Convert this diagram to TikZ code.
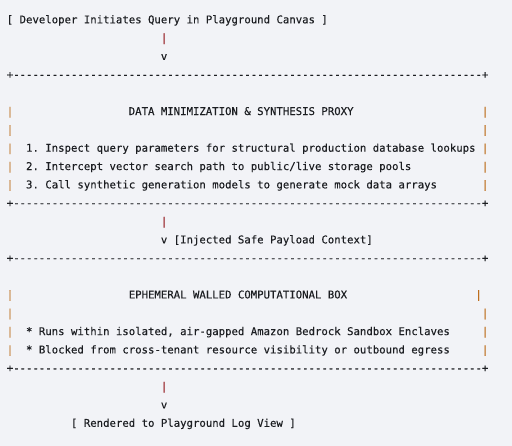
\documentclass[tikz,border=0pt]{standalone}
\usepackage{fontspec}
\setmonofont[FakeBold=0.25]{DejaVu Sans Mono}
\definecolor{bg}{RGB}{242,243,247}
\definecolor{ink}{RGB}{28,30,34}
\definecolor{sidec}{RGB}{190,110,30}
\definecolor{flowc}{RGB}{150,30,36}
\def\dashten{----------}
\def\dashline{+\dashten\dashten\dashten\dashten\dashten\dashten\dashten---+}
\begin{document}
\begin{tikzpicture}[x=0.75pt,y=-0.75pt,
  txt/.style={anchor=base west,inner sep=0pt,outer sep=0pt,font=\ttfamily\fontsize{8pt}{10pt}\selectfont,text=ink},
  side/.style={txt,text=sidec},
  flow/.style={txt,text=flowc}]
\useasboundingbox[fill=bg] (0,0) rectangle (512,446);
\begin{scope}[shift={(5.0925pt,-17.475pt)},x=4.815pt,y=-13.755pt]
% start
\node[txt] (start) at (0,0) {[ Developer Initiates Query in Playground Canvas ]};
\node[flow] (a1) at (24,1) {|};
\node[txt] (a1v) at (24,2) {v};
% proxy box
\node[txt] (p1top) at (0,3) {\dashline};
\node[side] (p1l5) at (0,5) {|};
\node[txt] (p1title) at (19,5) {DATA MINIMIZATION \& SYNTHESIS PROXY};
\node[side] (p1r5) at (74,5) {|};
\node[side] (p1l6) at (0,6) {|};
\node[side] (p1r6) at (74,6) {|};
\node[side] (p1l7) at (0,7) {|};
\node[txt] (p1s1) at (3,7) {1. Inspect query parameters for structural production database lookups};
\node[side] (p1r7) at (74,7) {|};
\node[side] (p1l8) at (0,8) {|};
\node[txt] (p1s2) at (3,8) {2. Intercept vector search path to public/live storage pools};
\node[side] (p1r8) at (74,8) {|};
\node[side] (p1l9) at (0,9) {|};
\node[txt] (p1s3) at (3,9) {3. Call synthetic generation models to generate mock data arrays};
\node[side] (p1r9) at (74,9) {|};
\node[txt] (p1bot) at (0,10) {\dashline};
% second arrow
\node[flow] (a2) at (24,11) {|};
\node[txt] (a2v) at (24,12) {v [Injected Safe Payload Context]};
% sandbox box
\node[txt] (p2top) at (0,13) {\dashline};
\node[side] (p2l15) at (0,15) {|};
\node[txt] (p2title) at (19,15) {EPHEMERAL WALLED COMPUTATIONAL BOX};
\node[side] (p2r15) at (73,15) {|};
\node[side] (p2l16) at (0,16) {|};
\node[side] (p2r16) at (74,16) {|};
\node[side] (p2l17) at (0,17) {|};
\node[txt] (p2s1) at (3,17) {* Runs within isolated, air-gapped Amazon Bedrock Sandbox Enclaves};
\node[side] (p2r17) at (74,17) {|};
\node[side] (p2l18) at (0,18) {|};
\node[txt] (p2s2) at (3,18) {* Blocked from cross-tenant resource visibility or outbound egress};
\node[side] (p2r18) at (74,18) {|};
\node[txt] (p2bot) at (0,19) {\dashline};
% third arrow
\node[flow] (a3) at (24,20) {|};
\node[txt] (a3v) at (24,21) {v};
\node[txt] (end) at (10,22) {[ Rendered to Playground Log View ]};
\end{scope}
\end{tikzpicture}
\end{document}
